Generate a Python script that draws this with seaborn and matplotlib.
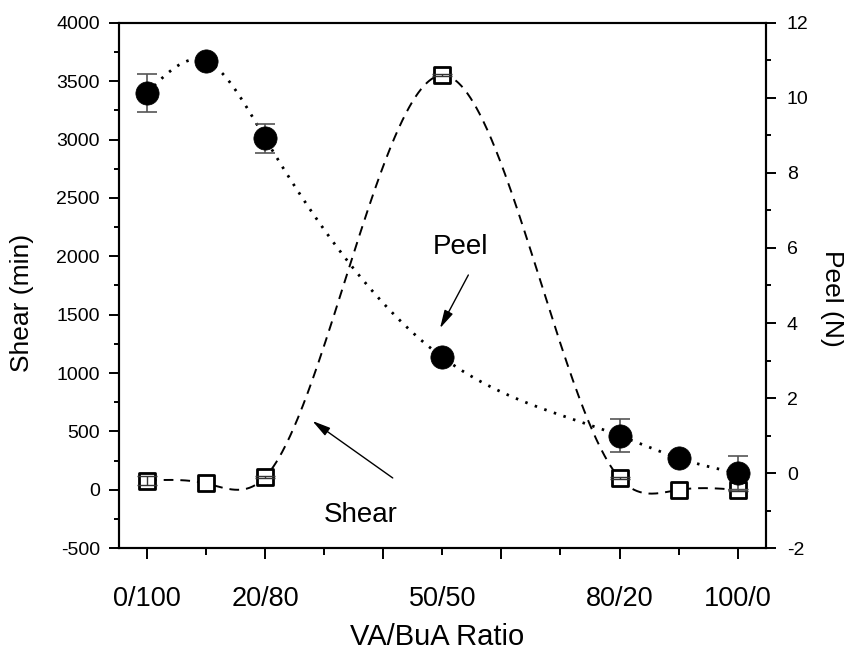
import numpy as np
import pandas as pd
import matplotlib
matplotlib.use("Agg")
import matplotlib.pyplot as plt
import seaborn as sns
from matplotlib.ticker import MultipleLocator

# ---------------- data ----------------
ratio_pos = [0, 10, 20, 50, 80, 90, 100]          # VA content (%)
shear_min = [80, 55, 110, 3550, 100, 0, 0]         # Shear (min), left axis
shear_err = [35, 0, 10, 10, 10, 0, 10]
peel_n = [10.13, 10.98, 8.92, 3.09, 1.0, 0.40, 0.0]  # Peel (N), right axis
peel_err = [0.50, 0, 0.39, 0, 0.44, 0, 0.46]

tick_major = [0, 20, 40, 60, 80, 100]
tick_major_labels = ["0/100", "20/80", "", "", "80/20", "100/0"]
tick_minor = [10, 30, 50, 70, 90]
tick_minor_labels = ["", "", "50/50", "", ""]


def natural_spline(x, y, xs):
    x = np.asarray(x, float)
    y = np.asarray(y, float)
    n = len(x)
    h = np.diff(x)
    A = np.zeros((n, n))
    r = np.zeros(n)
    A[0, 0] = 1
    A[-1, -1] = 1
    for i in range(1, n - 1):
        A[i, i - 1] = h[i - 1]
        A[i, i] = 2 * (h[i - 1] + h[i])
        A[i, i + 1] = h[i]
        r[i] = 6 * ((y[i + 1] - y[i]) / h[i] - (y[i] - y[i - 1]) / h[i - 1])
    M = np.linalg.solve(A, r)
    idx = np.clip(np.searchsorted(x, xs) - 1, 0, n - 2)
    x0, x1 = x[idx], x[idx + 1]
    hh = x1 - x0
    return (M[idx] * (x1 - xs) ** 3 / (6 * hh) + M[idx + 1] * (xs - x0) ** 3 / (6 * hh)
            + (y[idx] / hh - M[idx] * hh / 6) * (x1 - xs)
            + (y[idx + 1] / hh - M[idx + 1] * hh / 6) * (xs - x0))


sns.set_theme(style="ticks")
plt.rcParams["font.family"] = ["Liberation Sans", "DejaVu Sans"]
plt.rcParams["lines.scale_dashes"] = False
plt.rcParams["axes.unicode_minus"] = False
plt.rcParams["text.color"] = "black"
plt.rcParams["axes.labelcolor"] = "black"
plt.rcParams["xtick.color"] = "black"
plt.rcParams["ytick.color"] = "black"

fig = plt.figure(figsize=(8.45, 6.49), dpi=100)
ax = fig.add_axes([0.1408, 0.1552, 0.7654, 0.8098])
ax2 = ax.twinx()

xs = np.linspace(0, 100, 600)
shear_curve = pd.DataFrame({"x": xs, "y": natural_spline(ratio_pos, shear_min, xs)})
peel_curve = pd.DataFrame({"x": xs, "y": natural_spline(ratio_pos, peel_n, xs)})

# Shear (left axis)
sns.lineplot(data=shear_curve, x="x", y="y", ax=ax, color="black", lw=1.4,
             sort=False, estimator=None, zorder=2)
ax.lines[-1].set_dashes((7, 5))
df_s = pd.DataFrame({"x": ratio_pos, "y": shear_min})
sns.scatterplot(data=df_s, x="x", y="y", ax=ax, marker="s", s=140, color="white",
                edgecolor="black", linewidth=2.0, zorder=3)
m = [i for i, e in enumerate(shear_err) if e > 0]
ax.errorbar([ratio_pos[i] for i in m], [shear_min[i] for i in m],
            yerr=[shear_err[i] for i in m], fmt="none", ecolor="#333333",
            elinewidth=1.0, capsize=7.5, capthick=1.0, zorder=4)

# Peel (right axis)
sns.lineplot(data=peel_curve, x="x", y="y", ax=ax2, color="black", lw=2.0,
             sort=False, estimator=None, zorder=2)
ax2.lines[-1].set_dashes((1.8, 5.5))
m = [i for i, e in enumerate(peel_err) if e > 0]
ax2.errorbar([ratio_pos[i] for i in m], [peel_n[i] for i in m],
             yerr=[peel_err[i] for i in m], fmt="none", ecolor="#555555",
             elinewidth=1.2, capsize=7.5, capthick=1.2, zorder=3)
df_p = pd.DataFrame({"x": ratio_pos, "y": peel_n})
sns.scatterplot(data=df_p, x="x", y="y", ax=ax2, marker="o", s=280, color="black",
                edgecolor="black", linewidth=0.5, zorder=4)

# axes limits & ticks
ax.set_xlim(-4.75, 104.75)
ax.set_ylim(-500, 4000)
ax2.set_ylim(-2, 12)
ax.yaxis.set_major_locator(MultipleLocator(500))
ax.yaxis.set_minor_locator(MultipleLocator(250))
ax2.yaxis.set_major_locator(MultipleLocator(2))
ax2.yaxis.set_minor_locator(MultipleLocator(1))
ax.set_xticks(tick_major, labels=tick_major_labels)
ax.set_xticks(tick_minor, labels=tick_minor_labels, minor=True)

ax.tick_params(axis="x", which="major", direction="out", length=8, width=1.4,
               pad=19.5, labelsize=19.5, colors="black")
ax.tick_params(axis="x", which="minor", direction="out", length=5, width=1.4,
               pad=22.5, labelsize=19.5, colors="black")
ax.tick_params(axis="y", which="major", direction="out", length=7.2, width=1.4,
               pad=6.5, labelsize=14, colors="black")
ax.tick_params(axis="y", which="minor", direction="out", length=3.6, width=1.4)
ax2.tick_params(axis="y", which="major", direction="out", length=7.2, width=1.4,
                pad=8, labelsize=14, colors="black")
ax2.tick_params(axis="y", which="minor", direction="out", length=3.6, width=1.4)
ax.tick_params(top=False, right=False, which="both")

for a in (ax, ax2):
    for sp in a.spines.values():
        sp.set_visible(True)
        sp.set_linewidth(1.5)
        sp.set_color("black")

ax.set_xlabel("VA/BuA Ratio", fontsize=21)
ax.xaxis.label.set_va("center")
ax.xaxis.set_label_coords(0.4925, -0.168)
ax.set_ylabel("Shear (min)", fontsize=19)
ax.yaxis.label.set_va("center")
ax.yaxis.set_label_coords(-0.150, 0.467)
ax2.set_ylabel("Peel (N)", fontsize=19, rotation=270)
ax2.yaxis.label.set_va("center")
ax2.yaxis.set_label_coords(1.1025, 0.475)

# annotations
arrow = dict(arrowstyle="-|>,head_length=1.1,head_width=0.28", color="black",
             lw=1.0, shrinkA=0, shrinkB=0, mutation_scale=10)
ax.text(53.1, 2080, "Peel", fontsize=20, ha="center", va="center", color="black")
ax.annotate("", xy=(49.6, 1384), xytext=(54.4, 1840), arrowprops=arrow)
ax.text(36.2, -215, "Shear", fontsize=20, ha="center", va="center", color="black")
ax.annotate("", xy=(28.0, 590), xytext=(41.6, 102), arrowprops=arrow)

ax.set_zorder(1)
ax2.set_zorder(2)
ax.patch.set_visible(True)
ax.patch.set_facecolor("white")
ax2.patch.set_visible(False)
fig.patch.set_facecolor("white")

fig.savefig("out.png", dpi=100)
